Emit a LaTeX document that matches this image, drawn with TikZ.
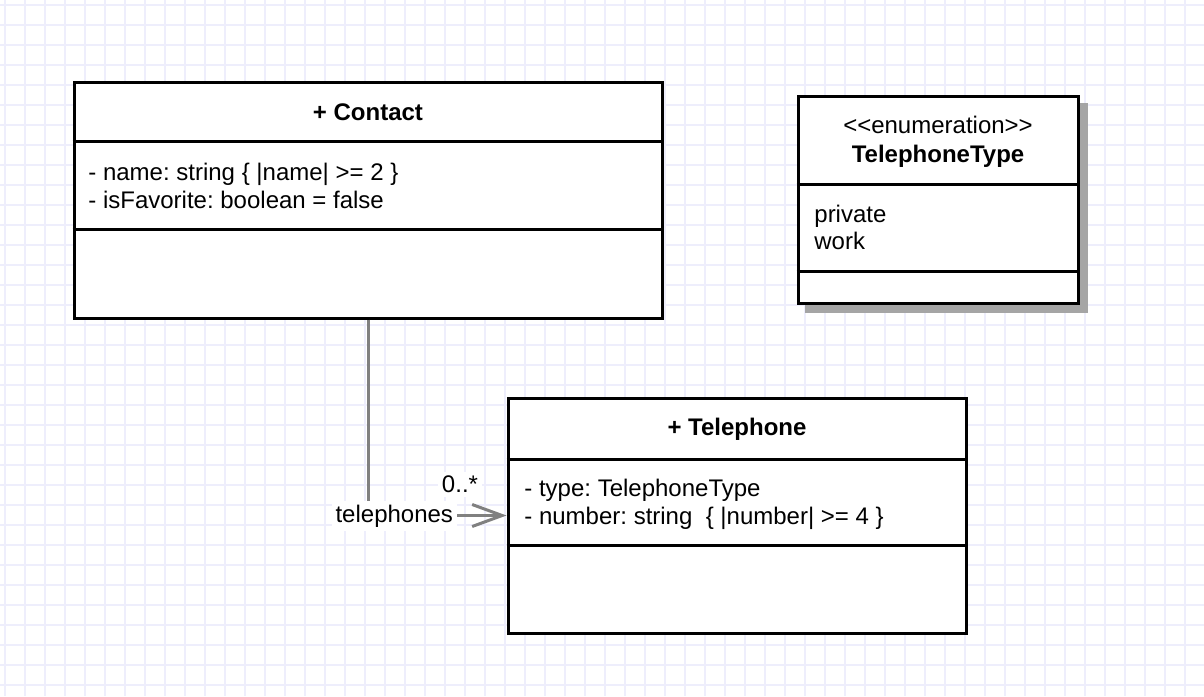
\documentclass[tikz,border=0pt]{standalone}
\usepackage{fontspec}
\setmainfont{Liberation Sans}
\usetikzlibrary{arrows.meta,positioning}
\tikzset{>={Straight Barb[length=15pt,width=11pt]}}
\frenchspacing

\definecolor{gridblue}{RGB}{238,238,252}
\definecolor{assocgray}{RGB}{128,128,128}
\definecolor{shadowgray}{RGB}{165,165,165}

\tikzset{
  classbox/.style={draw=black,line width=1.5pt,fill=white,inner sep=0pt},
  divider/.style={draw=black,line width=1.5pt},
  member/.style={anchor=base west,inner sep=0pt,font=\fontsize{12}{14}\selectfont},
  classtitle/.style={anchor=base,inner sep=0pt,font=\fontsize{12}{14}\selectfont\bfseries},
  stereo/.style={anchor=base,inner sep=0pt,font=\fontsize{12}{14}\selectfont},
  assoc/.style={draw=assocgray,line width=1.5pt,->},
  rolelabel/.style={font=\fontsize{12}{14}\selectfont,fill=white,inner sep=2pt}
}

\begin{document}
\begin{tikzpicture}[x=0.5pt,y=-0.5pt]

\def\W{1204}
\def\H{696}

\useasboundingbox (0,0) rectangle (\W,\H);
\fill[white] (0,0) rectangle (\W,\H);

% grid:
\foreach \i in {0,...,60}
  \draw[gridblue,line width=1pt] (5+20*\i,0) -- (5+20*\i,\H);
\foreach \j in {0,...,34}
  \draw[gridblue,line width=1pt] (0,5+20*\j) -- (\W,5+20*\j);

% Contact:
\node[classbox,minimum width=294pt,minimum height=118pt] (contact) at (368,200) {};
\draw[divider] (contact.west |- 0,141) -- (contact.east |- 0,141);
\draw[divider] (contact.west |- 0,229) -- (contact.east |- 0,229);
\node[classtitle] (contacttitle) at (368,120) {+ Contact};
\node[member] (contactname) at (88,180.5) {- name: string \{ |name| >= 2 \}};
\node[member] (contactfav) at (88,208) {- isFavorite: boolean = false};

% TelephoneType:
\node[classbox,minimum width=140pt,minimum height=103.5pt] (enumtype) at (938,199.5) {};
\fill[shadowgray] ([shift={(8,8)}]enumtype.south west) rectangle ([shift={(8,8)}]enumtype.north east);
\node[classbox,minimum width=140pt,minimum height=103.5pt] at (enumtype) {};
\draw[divider] (enumtype.west |- 0,184) -- (enumtype.east |- 0,184);
\draw[divider] (enumtype.west |- 0,271) -- (enumtype.east |- 0,271);
\node[stereo] (enumstereo) at (938,133.5) {<{}<enumeration>{}>};
\node[classtitle] (enumtitle) at (938,162.5) {TelephoneType};
\node[member] (enumprivate) at (814,222) {private};
\node[member] (enumwork) at (814,249) {work};

% Telephone:
\node[classbox,minimum width=229pt,minimum height=117.5pt] (telephone) at (737,515.5) {};
\draw[divider] (telephone.west |- 0,459) -- (telephone.east |- 0,459);
\draw[divider] (telephone.west |- 0,545) -- (telephone.east |- 0,545);
\node[classtitle] (teltitle) at (737,435.5) {+ Telephone};
\node[member] (teltype) at (524,496.5) {- type: TelephoneType};
\node[member] (telnumber) at (524,524) {- number: string\ \ \{ |number| >= 4 \}};

% association:
\draw[assoc] (contact.south) |- (telephone.west)
  node[rolelabel,pos=1,anchor=base east,xshift=-24pt,yshift=-3.5pt] (rolename) {telephones}
  node[rolelabel,pos=1,anchor=base east,xshift=-11.5pt,yshift=11.35pt] (multiplicity) {0..*};

\end{tikzpicture}
\end{document}
